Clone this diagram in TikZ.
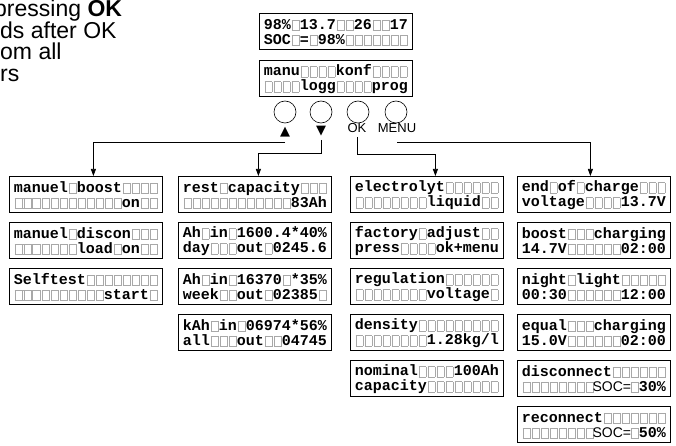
\documentclass[tikz,border=0pt]{standalone}
\usepackage{fontspec}
\setmainfont{Liberation Sans}
\newfontfamily\lcdfont{Liberation Mono}
\newfontfamily\symfont{DejaVu Sans}
\usetikzlibrary{arrows.meta}
\definecolor{cellgray}{gray}{0.66}
\newcommand\lcdcell[1]{\makebox[9pt][c]{#1}}
\newcommand\blankcell{\makebox[9pt][c]{\textcolor{cellgray}{\setlength\fboxsep{0pt}\setlength\fboxrule{0.6pt}\raisebox{-1pt}{\fbox{\rule{0pt}{10pt}\hspace{6.6pt}}}}}}
\newcommand\socs{\makebox[36pt][c]{\rmfamily\mdseries\fontsize{14pt}{14pt}\selectfont SOC=}}
\def\lcdloop#1{\ifx#1\relax\else\lcdput{#1}\expandafter\lcdloop\fi}
\def\lcdput#1{\ifx#1@\blankcell\else\ifx#1\socs\socs\else\lcdcell{#1}\fi\fi}
\newcommand\lcdline[1]{\hbox to 144pt{\rule[-2pt]{0pt}{15pt}\lcdloop#1\relax\hss}}
\newcommand\lcdtext[2]{\vbox{\baselineskip=15pt\lineskiplimit=-20pt\lcdline{#1}\lcdline{#2}}}
\tikzset{
  lcd/.style={draw, line width=0.8pt, minimum width=153pt, minimum height=36pt,
    inner sep=0pt, anchor=north west, font={\lcdfont\bfseries\fontsize{15pt}{15pt}\selectfont}},
  btn/.style={draw, circle, minimum size=22pt, inner sep=0pt, line width=0.6pt},
  conn/.style={line width=0.7pt, -{Triangle[length=7pt,width=5pt]}},
  note/.style={anchor=base west, inner sep=0pt, font=\fontsize{23pt}{23pt}\selectfont},
  lbl/.style={inner sep=0pt, font=\fontsize{13pt}{13pt}\selectfont},
  sym/.style={inner sep=0pt, font=\symfont\fontsize{13pt}{13pt}\selectfont}
}
\begin{document}
\begin{tikzpicture}[x=1pt, y=-1pt]
\useasboundingbox (0,0) rectangle (676,446);
\clip (0,0) rectangle (676,446);
% note text (cut at the left edge, as in the reference)
\node[note] (t1) at (-6,17) {pressing \textbf{OK}};
\node[note] (t2) at (0,38.5) {ds after OK};
\node[note] (t3) at (0,60) {om all};
\node[note] (t4) at (0,81.5) {rs};
% top displays
\node[lcd] (d1) at (259,13) {\lcdtext{98\%@13.7@@26@@17}{SOC@=@98\%@@@@@@@}};
\node[lcd] (d2) at (259,60) {\lcdtext{manu@@@@konf@@@@}{@@@@logg@@@@prog}};
% buttons
\node[btn] (b1) at (285,112) {};
\node[btn] (b2) at (321,112) {};
\node[btn] (b3) at (358,112) {};
\node[btn] (b4) at (396,112) {};
\node[sym] (up) at (285,132) {▲};
\node[sym] (down) at (321,131) {▼};
\node[lbl] (ok) at (357,128) {OK};
\node[lbl] (menu) at (397,128) {MENU};
% column 1
\node[lcd] (c1a) at (9,176) {\lcdtext{manuel@boost@@@@}{@@@@@@@@@@@@on@@}};
\node[lcd] (c1b) at (9,222) {\lcdtext{manuel@discon@@@}{@@@@@@@load@on@@}};
\node[lcd] (c1c) at (9,268) {\lcdtext{Selftest@@@@@@@@}{@@@@@@@@@@start@}};
% column 2
\node[lcd] (c2a) at (178,176) {\lcdtext{rest@capacity@@@}{@@@@@@@@@@@@83Ah}};
\node[lcd] (c2b) at (178,222) {\lcdtext{Ah@in@1600.4*40\%}{day@@@out@0245.6}};
\node[lcd] (c2c) at (178,268) {\lcdtext{Ah@in@16370@*35\%}{week@@out@02385@}};
\node[lcd] (c2d) at (178,314) {\lcdtext{kAh@in@06974*56\%}{all@@@out@@04745}};
% column 3
\node[lcd] (c3a) at (350,176) {\lcdtext{electrolyt@@@@@@}{@@@@@@@@liquid@@}};
\node[lcd] (c3b) at (350,222) {\lcdtext{factory@adjust@@}{press@@@@ok+menu}};
\node[lcd] (c3c) at (350,268) {\lcdtext{regulation@@@@@@}{@@@@@@@@voltage@}};
\node[lcd] (c3d) at (350,314) {\lcdtext{density@@@@@@@@@}{@@@@@@@@1.28kg/l}};
\node[lcd] (c3e) at (350,360) {\lcdtext{nominal@@@@100Ah}{capacity@@@@@@@@}};
% column 4
\node[lcd] (c4a) at (517,176) {\lcdtext{end@of@charge@@@}{voltage@@@@13.7V}};
\node[lcd] (c4b) at (517,222) {\lcdtext{boost@@@charging}{14.7V@@@@@@02:00}};
\node[lcd] (c4c) at (517,268) {\lcdtext{night@light@@@@@}{00:30@@@@@@12:00}};
\node[lcd] (c4d) at (517,314) {\lcdtext{equal@@@charging}{15.0V@@@@@@02:00}};
\node[lcd] (c4e) at (517,360) {\lcdtext{disconnect@@@@@@}{@@@@@@@@\socs@30\%}};
\node[lcd] (c4f) at (517,406) {\lcdtext{reconnect@@@@@@@}{@@@@@@@@\socs@50\%}};
% connectors
\draw[conn] (up.center |- 0,142) -| ([xshift=7.5pt]c1a.north);
\draw[conn] (down.center |- 0,140) -- (down.center |- 0,153) -| ([xshift=3.5pt]c2a.north);
\draw[conn] (ok.center |- 0,137) -- (ok.center |- 0,154) -| ([xshift=8.5pt]c3a.north);
\draw[conn] (menu.center |- 0,142) -| ([xshift=-3.5pt]c4a.north);
\end{tikzpicture}
\end{document}
